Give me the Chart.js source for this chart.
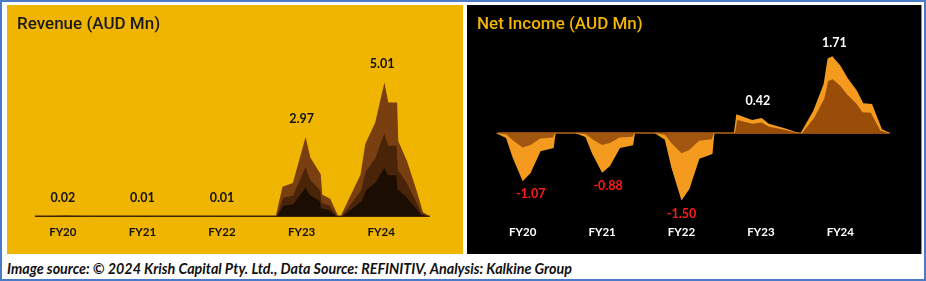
<!DOCTYPE html>
<html>
<head>
<meta charset="utf-8">
<script src="https://cdn.jsdelivr.net/npm/chart.js@4/dist/chart.umd.min.js"></script>
<style>
  body { margin: 0; background: #fff; }
  #frame { position: relative; width: 926px; height: 281px; overflow: hidden; background: #fff; }
  #border { position: absolute; left: 0; top: 0; width: 926px; height: 281px; box-sizing: border-box; border: 2px solid #4a7bc6; }
  .panel { position: absolute; top: 5px; height: 249px; }
  #revPanel { left: 7px; width: 456px; background: #efb500; }
  #niPanel { left: 467px; width: 455px; background: #000; border-right: 1px solid #8a8a8a; box-sizing: border-box; }
  .title { position: absolute; left: 10px; top: 8px; font: 500 17px Roboto, sans-serif; white-space: nowrap; }
  #revPanel .title { color: #1a1a1a; }
  #niPanel .title { color: #f2b400; }
  canvas { position: absolute; left: 0; top: 0; }
  #caption { position: absolute; left: 7px; top: 260px; font: italic bold 14.3px Lato, sans-serif; color: #111; white-space: nowrap; }
</style>
</head>
<body>
<div id="frame">
  <div id="revPanel" class="panel">
    <canvas id="revChart" width="456" height="249"></canvas>
    <div class="title">Revenue (AUD Mn)</div>
  </div>
  <div id="niPanel" class="panel">
    <canvas id="niChart" width="455" height="249"></canvas>
    <div class="title">Net Income (AUD Mn)</div>
  </div>
  <div id="caption">Image source: © 2024 Krish Capital Pty. Ltd., Data Source: REFINITIV, Analysis: Kalkine Group</div>
  <div id="border"></div>
</div>
<script>
const years = ['FY20', 'FY21', 'FY22', 'FY23', 'FY24'];
const revenue = [0.02, 0.01, 0.01, 2.97, 5.01];
const netIncome = [-1.07, -0.88, -1.50, 0.42, 1.71];

// mountain outlines: [dx in half-category widths, share of bar height]
const PEAK_WIDE = [[-1.02,0],[-0.52,0.31],[-0.4,0.54],[-0.15,0.7],[0.08,1],[0.18,0.85],[0.4,0.85],[0.43,0.56],[0.65,0.41],[0.9,0.18],[1.05,0.03],[1.22,0]];
const PEAK_NARROW = [[-0.65,0],[-0.48,0.37],[-0.22,0.42],[0.1,1],[0.22,0.74],[0.48,0.53],[0.52,0.27],[0.72,0.22],[0.92,0]];
const DIP = [[-0.68,0],[-0.42,0.1],[-0.25,0.52],[0,1],[0.2,0.83],[0.45,0.38],[0.78,0.31],[0.83,0]];
const PLATEAU = [[-0.68,0],[-0.62,1],[-0.22,0.7],[0.02,0.8],[0.2,0.5],[0.62,0.25],[0.9,0.05],[0.95,0]];
const PEAK_RIGHT = [[-1,0],[-0.68,0.29],[-0.42,0.64],[-0.32,0.97],[-0.2,1],[0,0.88],[0.18,0.72],[0.42,0.55],[0.58,0.39],[0.8,0.38],[0.92,0.22],[1.05,0.05],[1.25,0]];

function drawShape(ctx, bar, profile, hScale, xScale, color) {
  const hw = bar.width / 2;
  ctx.beginPath();
  profile.forEach(([dx, f], i) => {
    const px = bar.x + dx * hw * xScale;
    const py = bar.base - f * hScale * (bar.base - bar.y);
    if (i === 0) ctx.moveTo(px, py); else ctx.lineTo(px, py);
  });
  ctx.closePath();
  ctx.fillStyle = color;
  ctx.fill();
}

const mountains = {
  id: 'mountains',
  afterDatasetsDraw(chart, args, opts) {
    const ctx = chart.ctx;
    const meta = chart.getDatasetMeta(0);
    const values = chart.data.datasets[0].data;
    const bars = meta.data.map(b => b.getProps(['x', 'y', 'base', 'width'], true));
    ctx.save();
    // baseline strip
    const first = bars[0], last = bars[bars.length - 1];
    ctx.strokeStyle = opts.lineColor;
    ctx.lineWidth = opts.lineWidth;
    ctx.beginPath();
    ctx.moveTo(first.x - first.width / 2 * opts.lineStart, first.base);
    ctx.lineTo(last.x + last.width / 2 * opts.lineEnd, last.base);
    ctx.stroke();
    bars.forEach((bar, i) => {
      const profile = opts.shapes[i];
      const layers = values[i] < 0 ? opts.negLayers : opts.posLayers;
      layers.forEach(l => drawShape(ctx, bar, profile, l.h, l.w, l.color));
    });
    // value labels
    ctx.textAlign = 'center';
    ctx.textBaseline = 'middle';
    ctx.font = 'bold 12.5px Lato, sans-serif';
    bars.forEach((bar, i) => {
      const v = values[i];
      ctx.fillStyle = v < 0 ? opts.negColor : opts.posColor;
      const y = v < 0 ? bar.y + opts.gap : bar.y - opts.gap;
      ctx.fillText(v.toFixed(2), bar.x + (opts.labelDx[i] || 0), y);
    });
    ctx.restore();
  }
};

function makeChart(id, values, yMin, yMax, topPad, tickColor, mOpts) {
  return new Chart(document.getElementById(id), {
    type: 'bar',
    data: {
      labels: years,
      datasets: [{
        data: values,
        backgroundColor: 'rgba(0,0,0,0)',
        barPercentage: 1,
        categoryPercentage: 1
      }]
    },
    options: {
      responsive: false,
      animation: false,
      layout: { padding: { left: 16, right: 42, top: topPad, bottom: 6 } },
      scales: {
        x: {
          grid: { display: false, drawTicks: false },
          border: { display: false },
          ticks: { color: tickColor, padding: 9, font: { family: 'Lato', size: 11.5, weight: 'bold' } }
        },
        y: { display: false, min: yMin, max: yMax }
      },
      plugins: {
        legend: { display: false },
        tooltip: { enabled: false },
        mountains: mOpts
      }
    },
    plugins: [mountains]
  });
}

makeChart('revChart', revenue, 0, 6, 51, '#111', {
  shapes: [PEAK_NARROW, PEAK_NARROW, PEAK_NARROW, PEAK_NARROW, PEAK_WIDE],
  posLayers: [
    { h: 1, w: 1, color: '#7a3f10' },
    { h: 0.62, w: 0.97, color: '#4a2408' },
    { h: 0.36, w: 0.95, color: '#1c0d02' }
  ],
  negLayers: [],
  lineColor: '#3a2206', lineWidth: 1.5, lineStart: 0.7, lineEnd: 1.22,
  gap: 18, posColor: '#111', negColor: '#111', labelDx: [0, 0, 0, 0, 1]
});

makeChart('niChart', netIncome, -1.85, 1.85, 45, '#fff', {
  shapes: [DIP, DIP, DIP, PLATEAU, PEAK_RIGHT],
  posLayers: [
    { h: 1, w: 1, color: '#f49b1f' },
    { h: 0.7, w: 0.96, color: '#9a4d09' }
  ],
  negLayers: [
    { h: 1, w: 1, color: '#f49b1f' },
    { h: 0.3, w: 0.98, color: '#a0560e' }
  ],
  lineColor: '#8b4a0e', lineWidth: 2, lineStart: 0.63, lineEnd: 1.25,
  gap: 13, posColor: '#fff', negColor: '#ff1a1a', labelDx: [8, 6, 0, -3, -6]
});
</script>
</body>
</html>
